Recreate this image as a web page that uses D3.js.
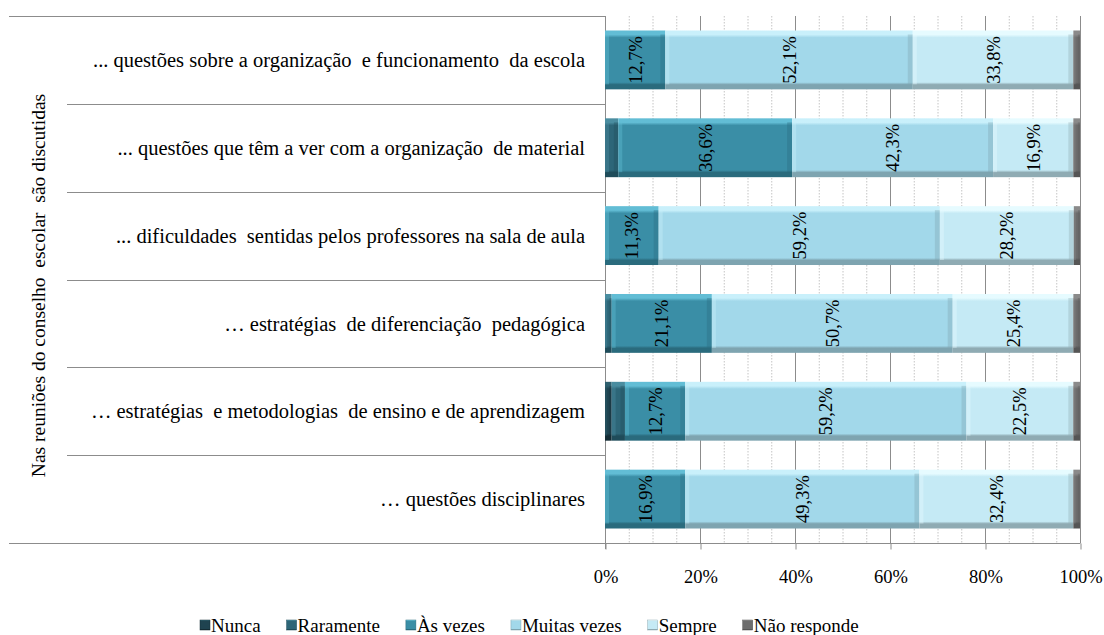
<!DOCTYPE html>
<html>
<head>
<meta charset="utf-8">
<script src="https://cdn.jsdelivr.net/npm/d3@7"></script>
<style>
  body { margin: 0; background: #fff; }
  svg text { fill: #000; white-space: pre; }
</style>
</head>
<body>
<div id="container"></div>
<script>
/* CONSTANTS AND GLOBALS */
const width = 1104;
const height = 635;
const margin = {top: 16, bottom: 92, left: 605, right: 24};
const serif = "'Liberation Serif', 'Times New Roman', serif";

/* DATA */
const categories = [
  "... questões sobre a organização  e funcionamento  da escola",
  "... questões que têm a ver com a organização  de material",
  "... dificuldades  sentidas pelos professores na sala de aula",
  "… estratégias  de diferenciação  pedagógica",
  "… estratégias  e metodologias  de ensino e de aprendizagem",
  "… questões disciplinares"
];
const series = ["Nunca", "Raramente", "Às vezes", "Muitas vezes", "Sempre", "Não responde"];
const nunca       = [0,   0,   0,   0,   1.4, 0];
const raramente   = [0,   2.8, 0,   1.4, 2.8, 0];
const asVezes     = [12.7, 36.6, 11.3, 21.1, 12.7, 16.9];
const muitasVezes = [52.1, 42.3, 59.2, 50.7, 59.2, 49.3];
const sempre      = [33.8, 16.9, 28.2, 25.4, 22.5, 32.4];
const naoResponde = [1.4, 1.4, 1.3, 1.4, 1.4, 1.4];
const labelled = ["Às vezes", "Muitas vezes", "Sempre"];
const xTicks = [0, 20, 40, 60, 80, 100];
const yTitle = "Nas reuniões do conselho  escolar  são discutidas";

// base, highlight, shadow
const colors = {
  "Nunca":        ["#1f4350", "#2e5f6e", "#142c35"],
  "Raramente":    ["#2d6678", "#4a8da0", "#1f4c5a"],
  "Às vezes":     ["#3a8ea6", "#62bdd5", "#2a6b7d"],
  "Muitas vezes": ["#a2d8ea", "#c9f0fb", "#7ea4b0"],
  "Sempre":       ["#c5eaf5", "#e6fbff", "#8fabb3"],
  "Não responde": ["#6d6d6d", "#8a8a8a", "#555555"]
};

const table = categories.map((c, i) => ({
  cat: c,
  "Nunca": nunca[i],
  "Raramente": raramente[i],
  "Às vezes": asVezes[i],
  "Muitas vezes": muitasVezes[i],
  "Sempre": sempre[i],
  "Não responde": naoResponde[i]
}));

const stacked = d3.stack().keys(series)(table);

/* SCALES */
const xScale = d3.scaleLinear()
  .domain([0, 100])
  .range([margin.left, width - margin.right]);

const yScale = d3.scaleBand()
  .domain(categories)
  .range([margin.top, height - margin.bottom])
  .paddingInner(0.33)
  .paddingOuter(0.165);

/* SVG */
const svg = d3.select("#container")
  .append("svg")
  .attr("width", width)
  .attr("height", height)
  .style("font-family", serif);

// gradients for the bevel look
const defs = svg.append("defs");
series.forEach((s, i) => {
  const g = defs.append("linearGradient")
    .attr("id", "grad" + i)
    .attr("x1", 0).attr("y1", 0).attr("x2", 0).attr("y2", 1);
  const c = colors[s];
  [[0, c[1]], [0.07, c[1]], [0.12, c[0]], [0.88, c[0]], [0.92, c[2]], [1, c[2]]]
    .forEach(([o, col]) => g.append("stop").attr("offset", o).attr("stop-color", col));
});

const y0 = margin.top, y1 = height - margin.bottom;

// minor gridlines every 5%
const minor = d3.range(5, 100, 5).filter(v => v % 20 !== 0);
svg.append("g").selectAll("line")
  .data(minor)
  .join("line")
  .attr("x1", d => xScale(d) + 0.5).attr("x2", d => xScale(d) + 0.5)
  .attr("y1", y0).attr("y2", y1)
  .attr("stroke", "#c4c4c4")
  .attr("stroke-dasharray", "1.5,1.5");

// major gridlines
svg.append("g").selectAll("line")
  .data(xTicks.slice(1))
  .join("line")
  .attr("x1", d => xScale(d) + 0.5).attr("x2", d => xScale(d) + 0.5)
  .attr("y1", y0).attr("y2", y1)
  .attr("stroke", "#8c8c8c");

// x axis
const xAxis = d3.axisBottom(xScale)
  .tickValues(xTicks)
  .tickFormat(d => d + "%")
  .tickSize(6)
  .tickPadding(20);
const gx = svg.append("g")
  .attr("transform", `translate(0.5,${y1 + 0.5})`)
  .call(xAxis);
gx.select(".domain").remove();
gx.selectAll("line").attr("stroke", "#8c8c8c");
gx.selectAll("text")
  .style("font-size", "18.5px")
  .style("font-family", serif)
  .attr("fill", "#000");

// frame lines of category area
svg.append("line")
  .attr("x1", 9).attr("x2", margin.left)
  .attr("y1", y0 + 0.5).attr("y2", y0 + 0.5)
  .attr("stroke", "#8c8c8c");
svg.append("line")
  .attr("x1", 9).attr("x2", xScale(100) + 0.5)
  .attr("y1", y1 + 0.5).attr("y2", y1 + 0.5)
  .attr("stroke", "#8c8c8c");
const step = yScale.step();
svg.append("g").selectAll("line")
  .data(d3.range(1, categories.length))
  .join("line")
  .attr("x1", 67).attr("x2", margin.left)
  .attr("y1", d => Math.round(y0 + d * step) + 0.5)
  .attr("y2", d => Math.round(y0 + d * step) + 0.5)
  .attr("stroke", "#8c8c8c");
// y axis line
svg.append("line")
  .attr("x1", margin.left + 0.5).attr("x2", margin.left + 0.5)
  .attr("y1", y0).attr("y2", y1 + 6)
  .attr("stroke", "#8c8c8c");

// bars
const layers = svg.append("g").selectAll("g")
  .data(stacked)
  .join("g")
  .attr("fill", (d, i) => `url(#grad${i})`);

layers.selectAll("rect")
  .data(d => d.filter(p => p[1] - p[0] > 0))
  .join("rect")
  .attr("x", d => xScale(d[0]))
  .attr("y", d => yScale(d.data.cat))
  .attr("width", d => xScale(d[1]) - xScale(d[0]))
  .attr("height", yScale.bandwidth());

// edge shading (left light, right dark)
layers.each(function(layer, i) {
  const c = colors[series[i]];
  const g = d3.select(this);
  const pts = layer.filter(p => p[1] - p[0] > 0);
  g.selectAll("rect.edgeR")
    .data(pts)
    .join("rect")
    .attr("class", "edgeR")
    .attr("x", d => xScale(d[1]) - Math.min(5, (xScale(d[1]) - xScale(d[0])) / 3))
    .attr("y", d => yScale(d.data.cat) + 4)
    .attr("width", d => Math.min(5, (xScale(d[1]) - xScale(d[0])) / 3))
    .attr("height", yScale.bandwidth() - 9)
    .attr("fill", c[2])
    .attr("opacity", 0.35);
  g.selectAll("rect.edgeL")
    .data(pts)
    .join("rect")
    .attr("class", "edgeL")
    .attr("x", d => xScale(d[0]))
    .attr("y", d => yScale(d.data.cat) + 4)
    .attr("width", d => Math.min(4, (xScale(d[1]) - xScale(d[0])) / 3))
    .attr("height", yScale.bandwidth() - 9)
    .attr("fill", c[1])
    .attr("opacity", 0.4);
});

// value labels (rotated)
stacked.forEach((layer, i) => {
  if (!labelled.includes(series[i])) return;
  svg.append("g").selectAll("text")
    .data(layer)
    .join("text")
    .attr("transform", d => `translate(${(xScale(d[0]) + xScale(d[1])) / 2},${yScale(d.data.cat) + yScale.bandwidth() / 2}) rotate(-90)`)
    .attr("text-anchor", "middle")
    .attr("dy", "0.35em")
    .style("font-size", "18.5px")
    .text(d => d3.format(".1f")(d[1] - d[0]).replace(".", ",") + "%");
});

// category labels
svg.append("g").selectAll("text")
  .data(categories)
  .join("text")
  .attr("x", margin.left - 20)
  .attr("y", d => yScale(d) + yScale.bandwidth() / 2)
  .attr("dy", "0.35em")
  .attr("text-anchor", "end")
  .style("font-size", "20.5px")
  .text(d => d);

// y title
svg.append("text")
  .attr("transform", `translate(38,${(y0 + y1) / 2 + 6}) rotate(-90)`)
  .attr("text-anchor", "middle")
  .attr("dy", "0.35em")
  .style("font-size", "19.5px")
  .text(yTitle);

// legend
const legend = svg.append("g");
let lx = 0;
const items = legend.selectAll("g")
  .data(series)
  .join("g");
items.append("rect")
  .attr("y", -12)
  .attr("width", 10).attr("height", 10)
  .attr("fill", (d, i) => `url(#grad${i})`)
  .attr("stroke", (d, i) => colors[d][2])
  .attr("stroke-width", 0.5);
items.append("text")
  .attr("x", 11)
  .style("font-size", "19px")
  .text(d => d);
items.each(function() {
  const w = this.querySelector("text").getComputedTextLength();
  d3.select(this).attr("transform", `translate(${lx},0)`);
  lx += 11 + w + 26;
});
const legendW = lx - 26;
legend.attr("transform", `translate(${Math.round(529 - legendW / 2)},${height - 3})`);
</script>
</body>
</html>
